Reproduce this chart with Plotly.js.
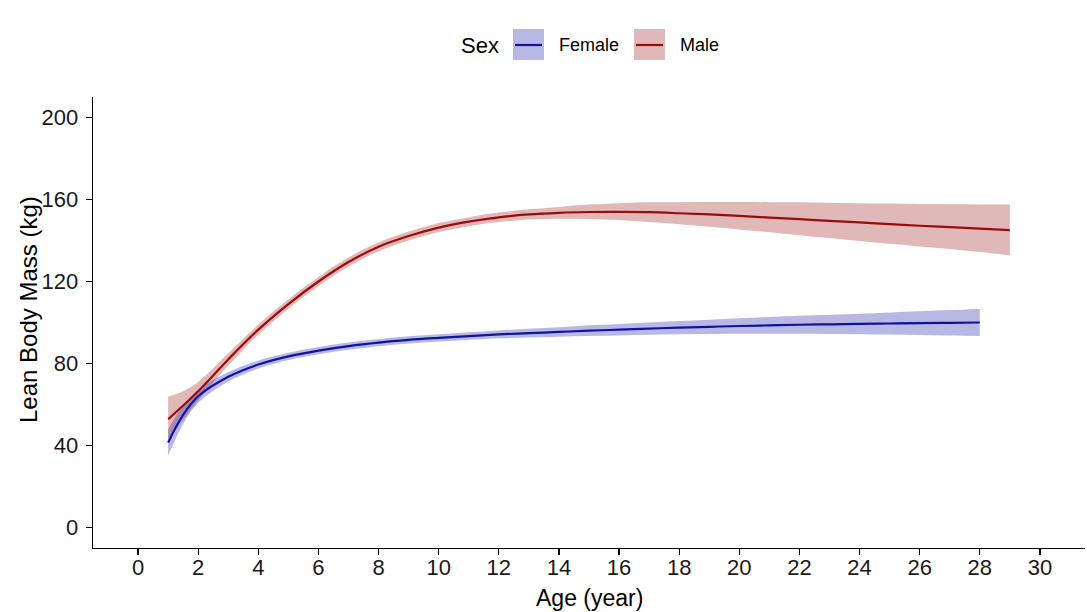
<!DOCTYPE html>
<html>
<head>
<meta charset="utf-8">
<script src="https://cdn.plot.ly/plotly-3.0.1.min.js"></script>
<style>
  html, body { margin: 0; padding: 0; background: #ffffff; }
  #chart { width: 1087px; height: 612px; }
</style>
</head>
<body>
<div id="chart"></div>
<script>
// Fitted lean body mass by age, with confidence bands
const maleAge = [1, 1.5, 2, 3, 4, 5, 6, 7, 8, 9, 10, 11, 12, 13, 14, 15, 16, 17, 18, 19, 20, 21, 22, 23, 24, 25, 26, 27, 28, 29];
const maleFit = [52.8, 59.5, 66.5, 82, 96.5, 109, 120, 129.5, 137, 142.2, 146.3, 149.2, 151.3, 152.7, 153.5, 153.9, 154, 153.8, 153.3, 152.7, 152, 151.2, 150.4, 149.6, 148.8, 148, 147.2, 146.5, 145.8, 145.1];
const maleUpper = [63.8, 66.5, 71, 85, 99, 111.3, 122.2, 131.7, 139.2, 144.4, 148.5, 151.4, 153.6, 155.2, 156.4, 157.5, 158.2, 158.6, 158.7, 158.8, 158.8, 158.7, 158.6, 158.4, 158.2, 158, 157.8, 157.7, 157.6, 157.5];
const maleLower = [43, 52.5, 62, 79, 94, 106.7, 117.8, 127.3, 134.8, 140, 144.1, 147, 149, 150.2, 150.6, 150.5, 150, 149, 147.9, 146.7, 145.4, 144, 142.6, 141.2, 139.8, 138.4, 137.1, 135.8, 134.4, 132.7];

const femaleAge = [1, 1.5, 2, 3, 4, 5, 6, 7, 8, 9, 10, 11, 12, 13, 14, 15, 16, 17, 18, 19, 20, 21, 22, 23, 24, 25, 26, 27, 28];
const femaleFit = [41.5, 55, 64, 73.5, 79.5, 83.5, 86.3, 88.5, 90.2, 91.5, 92.5, 93.4, 94.2, 94.8, 95.4, 96, 96.5, 97, 97.5, 97.9, 98.3, 98.6, 98.9, 99.1, 99.3, 99.5, 99.7, 99.85, 100];
const femaleUpper = [47.8, 59.5, 67.2, 75.8, 81.5, 85.3, 88.1, 90.3, 92, 93.3, 94.3, 95.2, 96.1, 96.9, 97.7, 98.6, 99.3, 100, 100.7, 101.4, 102.1, 102.7, 103.3, 103.8, 104.3, 104.9, 105.5, 106.05, 106.6];
const femaleLower = [35, 50.5, 60.8, 71.2, 77.5, 81.7, 84.5, 86.7, 88.4, 89.7, 90.7, 91.6, 92.3, 92.7, 93.1, 93.4, 93.7, 94, 94.3, 94.4, 94.5, 94.5, 94.5, 94.4, 94.3, 94.1, 93.9, 93.65, 93.4];

const xTicks = [0, 2, 4, 6, 8, 10, 12, 14, 16, 18, 20, 22, 24, 26, 28, 30];
const yTicks = [0, 40, 80, 120, 160, 200];
const sexLabels = ['Female', 'Male'];

const MALE_LINE = '#9b0b0b';
const MALE_FILL = 'rgba(165, 40, 40, 0.33)';
const FEMALE_LINE = '#12129e';
const FEMALE_FILL = 'rgba(40, 40, 175, 0.33)';

const W = 1087, H = 612, ML = 93, MR = 2, MT = 97, MB = 64;
const PW = W - ML - MR, PH = H - MT - MB;
const px = x => (x - ML) / PW;
const py = y => (H - MB - y) / PH;

function band(x, lo, hi, fill) {
  return [
    { x: x, y: lo, type: 'scatter', mode: 'lines', line: { width: 0, shape: 'spline' }, showlegend: false, hoverinfo: 'skip' },
    { x: x, y: hi, type: 'scatter', mode: 'lines', line: { width: 0, shape: 'spline' }, fill: 'tonexty', fillcolor: fill, showlegend: false, hoverinfo: 'skip' }
  ];
}
function fitLine(x, y, color, name) {
  return { x: x, y: y, name: name, type: 'scatter', mode: 'lines', line: { color: color, width: 2.2, shape: 'spline' }, showlegend: false };
}

const data = [
  ...band(maleAge, maleLower, maleUpper, MALE_FILL),
  ...band(femaleAge, femaleLower, femaleUpper, FEMALE_FILL),
  fitLine(maleAge, maleFit, MALE_LINE, sexLabels[1]),
  fitLine(femaleAge, femaleFit, FEMALE_LINE, sexLabels[0])
];

// Legend drawn as key boxes with a line through each
const keys = [
  { x0: 513, x1: 544, fill: FEMALE_FILL, line: FEMALE_LINE, label: sexLabels[0], tx: 557 },
  { x0: 634, x1: 665, fill: MALE_FILL, line: MALE_LINE, label: sexLabels[1], tx: 678 }
];
const shapes = [];
const annotations = [
  { text: 'Sex', x: px(459), y: py(45), xref: 'paper', yref: 'paper', xanchor: 'left', yanchor: 'middle', showarrow: false, font: { size: 22, color: '#000' } },
  // axis titles
  { text: 'Age (year)', x: px(589), y: py(598), xref: 'paper', yref: 'paper', xanchor: 'center', yanchor: 'middle', showarrow: false, font: { size: 23, color: '#000' } },
  { text: 'Lean Body Mass (kg)', x: px(28), y: py(310), xref: 'paper', yref: 'paper', xanchor: 'center', yanchor: 'middle', textangle: -90, showarrow: false, font: { size: 24, color: '#000' } }
];
keys.forEach(k => {
  shapes.push({ type: 'rect', xref: 'paper', yref: 'paper', x0: px(k.x0), x1: px(k.x1), y0: py(60), y1: py(29), fillcolor: k.fill, line: { width: 0 } });
  shapes.push({ type: 'line', xref: 'paper', yref: 'paper', x0: px(k.x0 + 2), x1: px(k.x1 - 2), y0: py(45), y1: py(45), line: { color: k.line, width: 2.2 } });
  annotations.push({ text: k.label, x: px(k.tx), y: py(45), xref: 'paper', yref: 'paper', xanchor: 'left', yanchor: 'middle', showarrow: false, font: { size: 18, color: '#000' } });
});

const layout = {
  width: W, height: H,
  margin: { l: ML, r: MR, t: MT, b: MB, pad: 0 },
  paper_bgcolor: '#ffffff', plot_bgcolor: '#ffffff',
  font: { family: 'Liberation Sans, Arial, sans-serif', color: '#000' },
  showlegend: false,
  xaxis: {
    range: [-1.5, 31.5], tickmode: 'array', tickvals: xTicks, ticktext: xTicks.map(String),
    showgrid: false, zeroline: false, showline: true, linecolor: '#000', linewidth: 1.3,
    ticks: 'outside', ticklen: 6, tickwidth: 1.2, tickcolor: '#000', ticklabelstandoff: -7,
    tickfont: { size: 22, color: '#1a1a1a' }
  },
  yaxis: {
    range: [-10, 210], tickmode: 'array', tickvals: yTicks, ticktext: yTicks.map(String),
    showgrid: false, zeroline: false, showline: true, linecolor: '#000', linewidth: 1.3,
    ticks: 'outside', ticklen: 6, tickwidth: 1.2, tickcolor: '#000', ticklabelstandoff: 3,
    tickfont: { size: 22, color: '#1a1a1a' }
  },
  shapes: shapes,
  annotations: annotations
};

Plotly.newPlot('chart', data, layout, { displayModeBar: false, staticPlot: true });
</script>
</body>
</html>
